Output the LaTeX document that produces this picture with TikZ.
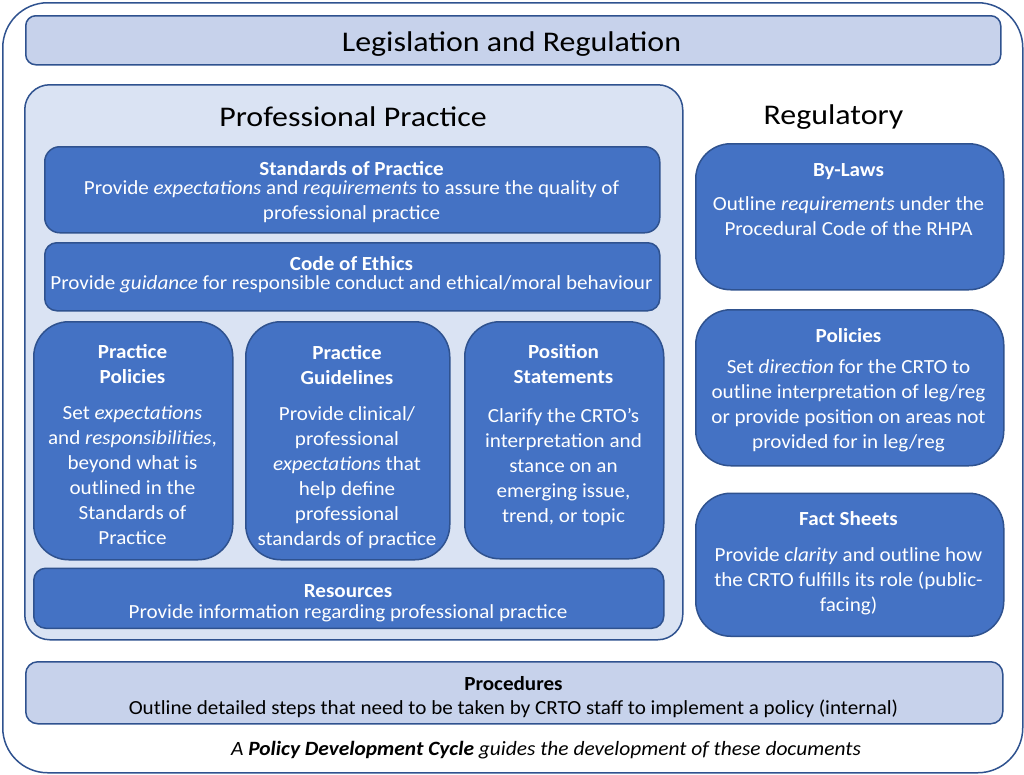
\documentclass[tikz,border=0pt]{standalone}
\usepackage{fontspec}
\setmainfont{Carlito}[FakeStretch=1.055]
\newfontfamily\headfont{Carlito}[FakeStretch=1.12]
\definecolor{darkfill}{HTML}{4472C4}
\definecolor{edgeblue}{HTML}{2F528F}
\definecolor{lightfill}{HTML}{C7D2EB}
\definecolor{palefill}{HTML}{DAE3F3}
\tikzset{
  box/.style={draw=edgeblue, line width=1.5pt, anchor=north west, inner sep=0pt},
  darkbox/.style={box, fill=darkfill},
  lightbox/.style={box, fill=lightfill},
  palebox/.style={box, fill=palefill},
  txt/.style={text=white, font=\fontsize{20}{25}\selectfont, align=center, inner sep=0pt,
              anchor=north, yshift=17.5pt, execute at begin node=\strut},
  ml/.style={yshift=-4.5pt},
  ttl/.style={txt, font=\fontsize{20}{25}\selectfont\bfseries},
  ttlk/.style={ttl, text=black},
  txtk/.style={txt, text=black},
  head/.style={font=\headfont\fontsize{28.5}{34}\selectfont, inner sep=0pt, anchor=base},
}
\begin{document}
\begin{tikzpicture}[x=1pt,y=-1pt]
\useasboundingbox (0,0) rectangle (1024,774);
% frames
\node[box, fill=white, rounded corners=45pt, minimum width=1020pt, minimum height=770pt] (outer) at (2,2) {};
\node[lightbox, rounded corners=10pt, minimum width=975pt, minimum height=49pt] (leg) at (25,15) {};
\node[palebox, rounded corners=25pt, minimum width=658pt, minimum height=555pt] (pp) at (24,84) {};
% practice boxes
\node[darkbox, rounded corners=15pt, minimum width=615pt, minimum height=86pt] (std) at (44,146) {};
\node[darkbox, rounded corners=12pt, minimum width=615pt, minimum height=68pt] (coe) at (44,242) {};
\node[darkbox, rounded corners=35pt, minimum width=199pt, minimum height=238pt] (ppol) at (33,321) {};
\node[darkbox, rounded corners=35pt, minimum width=204pt, minimum height=238pt] (pgui) at (245,321) {};
\node[darkbox, rounded corners=35pt, minimum width=199pt, minimum height=237pt] (pos) at (464,321) {};
\node[darkbox, rounded corners=12pt, minimum width=630pt, minimum height=60pt] (res) at (33,567.5) {};
% regulatory boxes
\node[darkbox, rounded corners=35pt, minimum width=308pt, minimum height=146pt] (byl) at (695,143) {};
\node[darkbox, rounded corners=35pt, minimum width=308pt, minimum height=156pt] (pol) at (695,309) {};
\node[darkbox, rounded corners=35pt, minimum width=308pt, minimum height=143pt] (fact) at (695,492.5) {};
% procedures
\node[lightbox, rounded corners=12pt, minimum width=977pt, minimum height=62pt] (proc) at (25,661) {};

% headings
\node[head] (legT) at (511.5,51) {Legislation and Regulation};
\node[head] (ppT) at (353,126.5) {Professional Practice};
\node[head] (regT) at (833.5,124) {Regulatory};

% standards
\node[ttl] (stdT) at (351.5,175) {Standards of Practice};
\node[txt, yshift=-2.5pt] (stdB) at (351.5,195) {Provide \textit{expectations} and \textit{requirements} to assure the quality of\\professional practice};
% code of ethics
\node[ttl] (coeT) at (351.5,270) {Code of Ethics};
\node[txt] (coeB) at (351.5,289.5) {Provide \textit{guidance} for responsible conduct and ethical/moral behaviour};
% practice policies
\node[ttl, ml] (ppolT) at (132.5,357) {Practice\\Policies};
\node[txt, ml] (ppolB) at (132.5,418) {Set \textit{expectations}\\and \textit{responsibilities},\\beyond what is\\outlined in the\\Standards of\\Practice};
% practice guidelines
\node[ttl, ml] (pguiT) at (347,358.5) {Practice\\Guidelines};
\node[txt, ml] (pguiB) at (347,419) {Provide clinical/\\professional\\\textit{expectations} that\\help define\\professional\\standards of practice};
% position statements
\node[ttl, ml] (posT) at (563.5,357) {Position\\Statements};
\node[txt, ml] (posB) at (563.5,421) {Clarify the CRTO’s\\interpretation and\\stance on an\\emerging issue,\\trend, or topic};
% resources
\node[ttl] (resT) at (348,597) {Resources};
\node[txt] (resB) at (348,618) {Provide information regarding professional practice};
% by-laws
\node[ttl] (bylT) at (848.5,176) {By-Laws};
\node[txt, ml] (bylB) at (848.5,209) {Outline \textit{requirements} under the\\Procedural Code of the RHPA};
% policies
\node[ttl] (polT) at (848.5,342) {Policies};
\node[txt, ml] (polB) at (848.5,372) {Set \textit{direction} for the CRTO to\\outline interpretation of leg/reg\\or provide position on areas not\\provided for in leg/reg};
% fact sheets
\node[ttl] (factT) at (848.5,525) {Fact Sheets};
\node[txt, ml] (factB) at (848.5,560) {Provide \textit{clarity} and outline how\\the CRTO fulfills its role (public-\\facing)};
% procedures
\node[ttlk] (procT) at (513.5,690) {Procedures};
\node[txtk] (procB) at (513.5,714.5) {Outline detailed steps that need to be taken by CRTO staff to implement a policy (internal)};
% caption
\node[txtk, font=\fontsize{20.3}{25}\selectfont\itshape] (cap) at (546,755) {A \textbf{Policy Development Cycle} guides the development of these documents};
\end{tikzpicture}
\end{document}
